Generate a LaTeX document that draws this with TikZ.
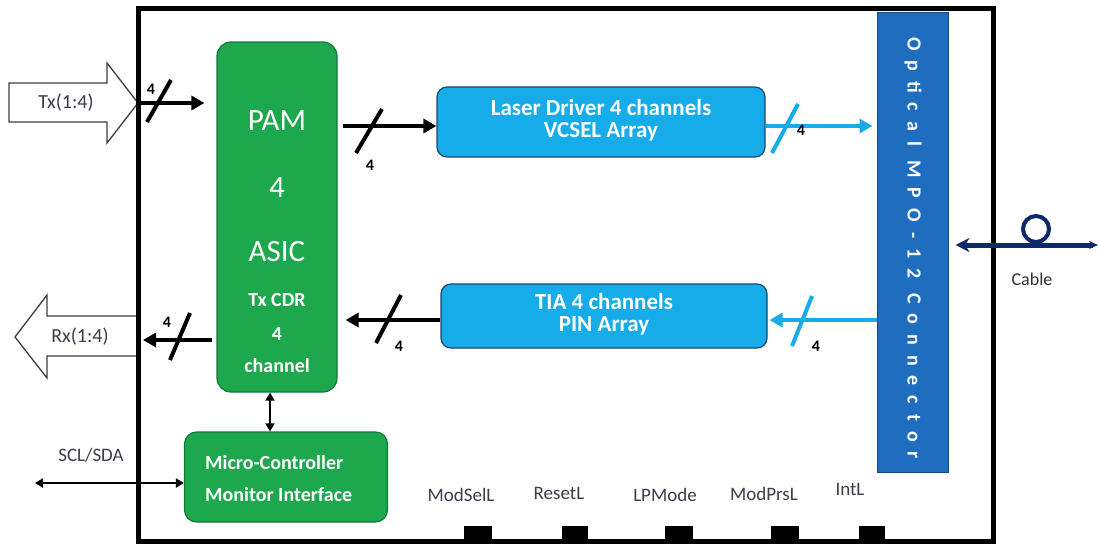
\documentclass[tikz,border=0pt]{standalone}
\usepackage{fontspec}
\setmainfont{Carlito}
\usetikzlibrary{arrows.meta}
\definecolor{grn}{RGB}{30,168,78}
\definecolor{grnd}{RGB}{20,120,55}
\definecolor{cyn}{RGB}{22,172,234}
\definecolor{cynd}{RGB}{30,70,110}
\definecolor{conblue}{RGB}{30,109,191}
\definecolor{conbd}{RGB}{20,70,130}
\definecolor{navy}{RGB}{12,42,105}
\definecolor{txtgray}{RGB}{60,60,75}
\tikzset{
  gbox/.style={draw=grnd, line width=1.2pt, fill=grn, rounded corners=14pt},
  cbox/.style={draw=cynd, line width=1.2pt, fill=cyn, rounded corners=10pt},
  wtext/.style={text=white, inner sep=0pt, font=\bfseries},
  ltext/.style={text=txtgray, inner sep=0pt},
  barrow/.style={line width=4pt, -{Triangle[length=13pt,width=14pt]}},
  carrow/.style={cyn, line width=4pt, -{Triangle[length=13pt,width=14pt]}},
  slashln/.style={line width=4pt},
  cslash/.style={cyn, line width=4pt},
  thinarrow/.style={line width=2pt, {Triangle[length=8pt,width=9pt]}-{Triangle[length=8pt,width=9pt]}},
  bigarrow/.style={draw=txtgray, line width=1.3pt, fill=white},
  pinsq/.style={fill=black, draw=none, minimum width=28pt, minimum height=14pt, inner sep=0pt},
  cable/.style={navy, line width=5pt, {Stealth[length=14pt,width=14pt]}-{Stealth[length=9pt,width=8pt]}},
}
\begin{document}
\begin{tikzpicture}[x=1pt,y=-1pt]
\useasboundingbox (0,0) rectangle (1099,546);
\fill[white] (0,0) rectangle (1099,546);

% outline arrows Tx / Rx
\draw[bigarrow] (9,83) -- (107,83) -- (107,63) -- (138,103) -- (107,143) -- (107,122) -- (9,122) -- cycle;
\node[ltext, font=\fontsize{20}{22}\selectfont] (txl) at (66,103) {Tx(1:4)};
\draw[bigarrow] (15,337) -- (47,295) -- (47,316) -- (138,316) -- (138,356) -- (47,356) -- (47,378) -- cycle;
\node[ltext, font=\fontsize{20}{22}\selectfont] (rxl) at (80,337) {Rx(1:4)};

% main frame
\draw[line width=5pt] (138,8) rectangle (993,541);

% boxes
\node[gbox, minimum width=120pt, minimum height=350pt] (asic) at (277,217) {};
\node[gbox, minimum width=203pt, minimum height=90pt, rounded corners=12pt] (mc) at (286,477) {};
\node[cbox, minimum width=328pt, minimum height=70pt] (laser) at (601,122) {};
\node[cbox, minimum width=326pt, minimum height=64pt] (tia) at (604,316) {};
\node[draw=conbd, line width=1pt, fill=conblue, minimum width=71pt, minimum height=460pt, inner sep=0pt] (conn) at (912.5,242) {};

% ASIC text
\node[wtext, font=\fontsize{31}{31}\selectfont\mdseries] (t1) at (277,121) {PAM};
\node[wtext, font=\fontsize{31}{31}\selectfont\mdseries] (t2) at (277,188) {4};
\node[wtext, font=\fontsize{31}{31}\selectfont\mdseries] (t3) at (277,252) {ASIC};
\node[wtext, font=\fontsize{20}{20}\selectfont\bfseries] (t4) at (277,300) {Tx CDR};
\node[wtext, font=\fontsize{20}{20}\selectfont\bfseries] (t5) at (277,334) {4};
\node[wtext, font=\fontsize{20}{20}\selectfont\bfseries] (t6) at (277,366) {channel};

% MC text
\node[wtext, anchor=west, font=\fontsize{20}{20}\selectfont\bfseries] (m1) at (205,463) {Micro-Controller};
\node[wtext, anchor=west, font=\fontsize{20}{20}\selectfont\bfseries] (m2) at (205,495) {Monitor Interface};

% laser / TIA text
\node[wtext, align=center, font=\fontsize{23}{22}\selectfont\bfseries] (lt) at (601,120) {Laser Driver 4 channels\\VCSEL Array};
\node[wtext, align=center, font=\fontsize{23}{22}\selectfont\bfseries] (tt) at (604,314) {TIA 4 channels\\PIN Array};

% connector text
\node[wtext, rotate=-90, font=\fontsize{20}{20}\selectfont\bfseries] (ct) at (913,248) {\addfontfeature{LetterSpace=50}Optical MPO-12 Connector};

% coordinates
\coordinate (txin) at (138,103);
\coordinate (rxout) at (138,340);
\coordinate (ylas) at (0,126);
\coordinate (ytia) at (0,320);
\coordinate (scl) at (35,483);
\coordinate (cabR) at (1098,245);

% Tx arrow
\draw[barrow, shorten >=12pt] (txin) -- (txin -| asic.west);
\draw[slashln] (147,122) -- (171,80);
\node[ltext, font=\fontsize{16}{16}\selectfont\bfseries, text=black] (n1) at (151,89) {4};

% Rx arrow
\draw[barrow, shorten <=4pt, shorten >=5pt] (asic.west |- rxout) -- (rxout);
\draw[slashln] (170,360) -- (190,313);
\node[ltext, font=\fontsize{16}{16}\selectfont\bfseries, text=black] (n2) at (167,322) {4};

% ASIC -> laser
\draw[barrow, shorten <=5pt] (asic.east |- ylas) -- (laser.west |- ylas);
\draw[slashln] (356,153) -- (382,109);
\node[ltext, font=\fontsize{16}{16}\selectfont\bfseries, text=black] (n3) at (370,165) {4};

% laser -> connector
\draw[carrow, shorten >=4pt] (laser.east |- ylas) -- (conn.west |- ylas);
\draw[cslash] (772,153) -- (798,104);
\node[ltext, font=\fontsize{16}{16}\selectfont\bfseries, text=black] (n4) at (801,130) {4};

% connector -> TIA
\draw[carrow, shorten >=2pt] (conn.west |- ytia) -- (tia.east |- ytia);
\draw[cslash] (792,346) -- (812,296);
\node[ltext, font=\fontsize{16}{16}\selectfont\bfseries, text=black] (n5) at (816,346) {4};

% TIA -> ASIC
\draw[barrow, shorten >=8pt] (tia.west |- ytia) -- (asic.east |- ytia);
\draw[slashln] (376,343) -- (401,295);
\node[ltext, font=\fontsize{16}{16}\selectfont\bfseries, text=black] (n6) at (399,346) {4};

% ASIC <-> MC
\draw[thinarrow] ([xshift=-7pt]asic.south) -- ([xshift=-7pt]asic.south |- mc.north);

% SCL/SDA
\draw[thinarrow] (scl) -- (scl -| mc.west);
\node[ltext, font=\fontsize{19}{19}\selectfont] (scll) at (91,455) {SCL/SDA};

% cable
\draw[cable] ([xshift=7pt]conn.east |- cabR) -- (cabR);
\draw[navy, line width=4pt] (1036,229) circle (13pt);
\node[ltext, font=\fontsize{18}{18}\selectfont, text=black!80] (cab) at (1032,279) {Cable};

% pins
\node[pinsq] (p1) at (477.5,533) {};
\node[pinsq, minimum width=26pt] (p2) at (575,533) {};
\node[pinsq] (p3) at (679,533) {};
\node[pinsq] (p4) at (785,533) {};
\node[pinsq, minimum width=26pt] (p5) at (872,533) {};
\node[ltext, font=\fontsize{19}{19}\selectfont] (l1) at (461,495) {ModSelL};
\node[ltext, font=\fontsize{19}{19}\selectfont] (l2) at (559,493) {ResetL};
\node[ltext, font=\fontsize{19}{19}\selectfont] (l3) at (665,495) {LPMode};
\node[ltext, font=\fontsize{19}{19}\selectfont] (l4) at (764,494) {ModPrsL};
\node[ltext, font=\fontsize{19}{19}\selectfont] (l5) at (850,489) {IntL};
\end{tikzpicture}
\end{document}
